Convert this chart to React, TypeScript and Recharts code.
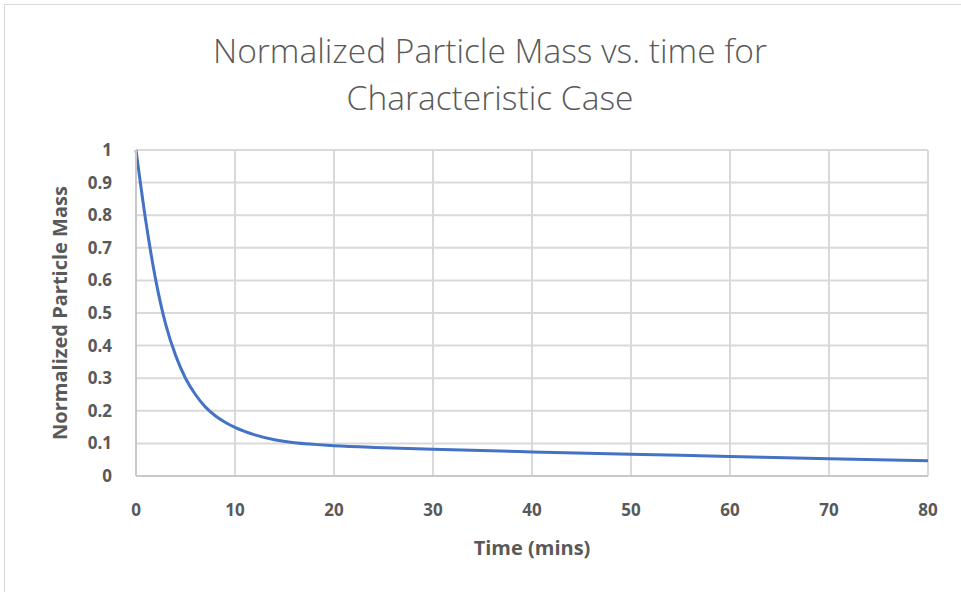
import React from 'react';
import { LineChart, Line, XAxis, YAxis, CartesianGrid, Label } from 'recharts';

const timeMins = [0, 1, 2, 3, 4, 5, 6, 7, 8, 9, 10, 12, 14, 16, 18, 20, 25, 30, 40, 50, 60, 70, 80];
const massValues = [1.0, 0.78, 0.6, 0.465, 0.37, 0.3, 0.25, 0.212, 0.185, 0.165, 0.149, 0.126, 0.111, 0.102, 0.097, 0.093, 0.087, 0.082, 0.074, 0.067, 0.06, 0.053, 0.047];
const xTicks = [0, 10, 20, 30, 40, 50, 60, 70, 80];
const yTicks = [0, 0.1, 0.2, 0.3, 0.4, 0.5, 0.6, 0.7, 0.8, 0.9, 1];
const titleLines = ['Normalized Particle Mass vs. time for', 'Characteristic Case'];

const data = timeMins.map((t, i) => ({ t, v: massValues[i] }));

const FONT = "'Open Sans', 'Noto Sans', sans-serif";
const GRAY = '#595959';

export default function App() {
  return (
    <div style={{ position: 'absolute', left: 0, top: 0, width: 961, height: 592, background: '#fff', fontFamily: FONT, overflow: 'hidden' }}>
      <div style={{ position: 'absolute', left: 4, top: 4, width: 980, height: 620, border: '1px solid #d9d9d9', boxSizing: 'border-box' }} />
      {titleLines.map((s, i) => (
        <div key={i} style={{ position: 'absolute', left: 0, width: 980, top: 28 + i * 47, textAlign: 'center', fontSize: 33.5, color: GRAY, fontWeight: 300, lineHeight: '44px' }}>{s}</div>
      ))}
      <div style={{ position: 'absolute', left: 0, top: 0 }}>
        <LineChart width={961} height={592} data={data} margin={{ top: 150, right: 33, bottom: 86, left: 76 }}>
          <CartesianGrid stroke="#d9d9d9" strokeWidth={2} />
          <XAxis
            dataKey="t"
            type="number"
            domain={[0, 80]}
            ticks={xTicks}
            height={30}
            tickLine={false}
            axisLine={{ stroke: '#c8c8c8', strokeWidth: 2 }}
            tick={{ fill: GRAY, fontSize: 17, fontWeight: 700, fontFamily: FONT }}
            tickMargin={22}
            interval={0}
          >
            <Label value="Time (mins)" position="bottom" offset={35} style={{ fill: GRAY, fontSize: 20, fontWeight: 700, fontFamily: FONT }} />
          </XAxis>
          <YAxis
            type="number"
            domain={[0, 1]}
            ticks={yTicks}
            width={60}
            tickLine={false}
            axisLine={{ stroke: '#c8c8c8', strokeWidth: 2 }}
            tick={{ fill: GRAY, fontSize: 17, fontWeight: 700, fontFamily: FONT }}
            tickMargin={18}
            interval={0}
          >
            <Label value="Normalized Particle Mass" angle={-90} position="left" offset={16} style={{ fill: GRAY, fontSize: 20, fontWeight: 700, fontFamily: FONT, textAnchor: 'middle' }} />
          </YAxis>
          <Line type="monotone" dataKey="v" stroke="#4472c4" strokeWidth={3} dot={false} isAnimationActive={false} />
        </LineChart>
      </div>
    </div>
  );
}
